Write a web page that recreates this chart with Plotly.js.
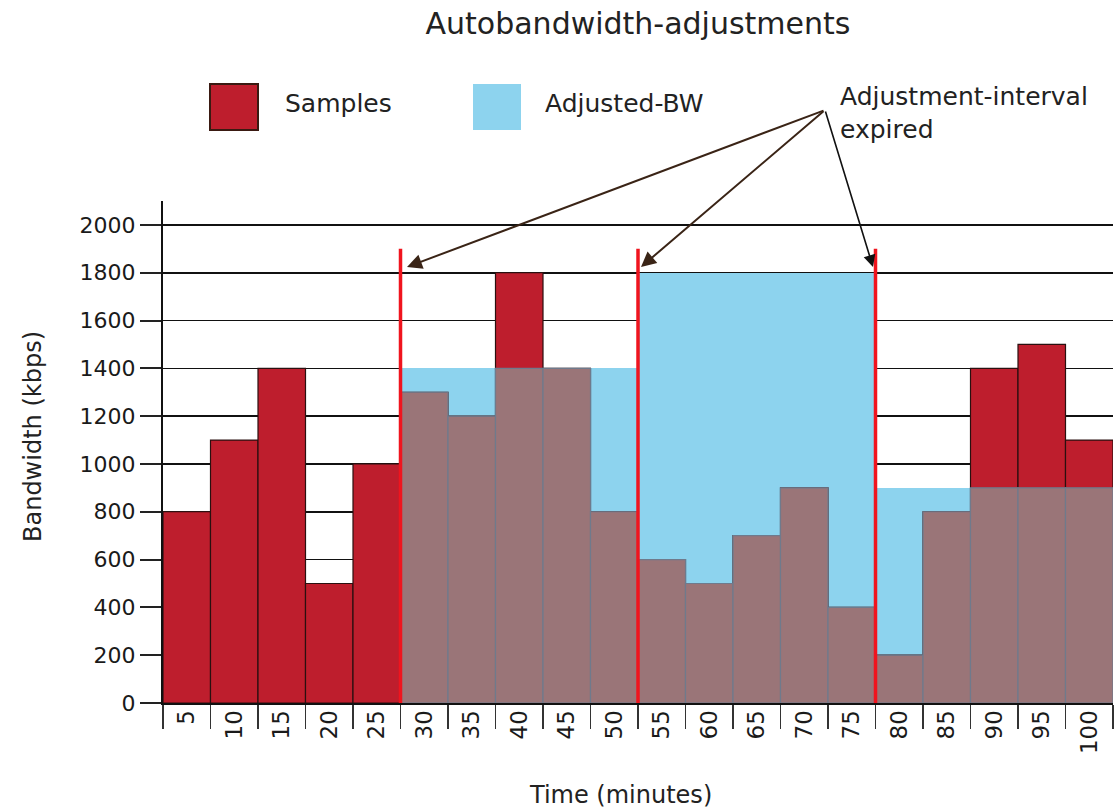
<!DOCTYPE html>
<html>
<head>
<meta charset="utf-8">
<script src="https://cdn.plot.ly/plotly-3.0.1.min.js"></script>
<style>html,body{margin:0;padding:0;background:#fff;}#chart{width:1118px;height:811px;}</style>
</head>
<body>
<div id="chart"></div>
<script>
// ---- data ----
const times = ['5','10','15','20','25','30','35','40','45','50','55','60','65','70','75','80','85','90','95','100'];
const samples = [800,1100,1400,500,1000,1300,1200,1800,1400,800,600,500,700,900,400,200,800,1400,1500,1100];
const adjTimes = ['30','35','40','45','50','55','60','65','70','75','80','85','90','95','100'];
const adjustedBW = [1400,1400,1400,1400,1400,1800,1800,1800,1800,1800,900,900,900,900,900];
const yTicks = [0,200,400,600,800,1000,1200,1400,1600,1800,2000];
const expiryLineTop = 1900;

// overlap (where both series cover the same area) drawn in the blended colour
const adjMap = {};
adjTimes.forEach((t,i)=>{adjMap[t]=adjustedBW[i];});
const overlapX = adjTimes;
const overlapY = adjTimes.map(t => Math.min(samples[times.indexOf(t)], adjMap[t]));

const RED = '#BE1E2D', BLUE = '#8DD3EE', MAUVE = '#9A7578';
const FONT = 'DejaVu Sans, sans-serif';

const traces = [
  {type:'bar', x:adjTimes, y:adjustedBW, name:'Adjusted-BW', marker:{color:BLUE, line:{color:BLUE, width:0}}, showlegend:false},
  {type:'bar', x:times, y:samples, name:'Samples', marker:{color:RED, line:{color:'#2a1010', width:1.2}}, showlegend:false},
  {type:'bar', x:overlapX, y:overlapY, name:'overlap', marker:{color:MAUVE, line:{color:'#6f7a8c', width:1.2}}, showlegend:false}
];

// geometry helpers (pixel -> paper)
const L=163, R=1113, T=201, B=703;
const px = v => (v-L)/(R-L);
const py = v => (B-v)/(B-T);

const shapes = [];
[0.25,0.5,0.75].forEach(xp=>{
  shapes.push({type:'line', xref:'paper', yref:'y', x0:xp, x1:xp, y0:0, y1:expiryLineTop, line:{color:'#F0141E', width:3.5}, layer:'above'});
});
// legend swatches
shapes.push({type:'rect', xref:'paper', yref:'paper', x0:px(210), x1:px(258), y0:py(130), y1:py(84), fillcolor:RED, line:{color:'#3a1a12', width:2}});
shapes.push({type:'rect', xref:'paper', yref:'paper', x0:px(473), x1:px(521), y0:py(130), y1:py(84), fillcolor:BLUE, line:{color:BLUE, width:0}});

const annotations = [
  {xref:'paper', yref:'paper', x:px(283), y:py(104), xanchor:'left', yanchor:'middle', text:'Samples', showarrow:false, font:{family:FONT, size:25, color:'#222'}},
  {xref:'paper', yref:'paper', x:px(543), y:py(104), xanchor:'left', yanchor:'middle', text:'Adjusted-BW', showarrow:false, font:{family:FONT, size:25, color:'#222'}},
  {xref:'paper', yref:'paper', x:px(838), y:py(80), xanchor:'left', yanchor:'top', align:'left', text:'Adjustment-interval<br>expired', showarrow:false, font:{family:FONT, size:25, color:'#222'}},
  {xref:'paper', yref:'paper', x:px(407), y:py(267), ax:418, ay:-157, text:'', showarrow:true, arrowhead:2, arrowsize:1.5, arrowwidth:2, arrowcolor:'#3a2416'},
  {xref:'paper', yref:'paper', x:px(641), y:py(267), ax:184, ay:-157, text:'', showarrow:true, arrowhead:2, arrowsize:1.5, arrowwidth:2, arrowcolor:'#3a2416'},
  {xref:'paper', yref:'paper', x:px(873), y:py(267), ax:-48, ay:-157, text:'', showarrow:true, arrowhead:2, arrowsize:1.5, arrowwidth:1.6, arrowcolor:'#111'},
  {xref:'paper', yref:'paper', x:px(33), y:py(437), xanchor:'center', yanchor:'middle', textangle:-90, text:'Bandwidth (kbps)', showarrow:false, font:{family:FONT, size:24, color:'#222'}},
  {xref:'paper', yref:'paper', x:px(620), y:py(795), xanchor:'center', yanchor:'middle', text:'Time (minutes)', showarrow:false, font:{family:FONT, size:24, color:'#222'}}
];

const layout = {
  width:1118, height:811,
  margin:{l:L, r:1118-R, t:T, b:811-B, pad:0},
  paper_bgcolor:'#fff', plot_bgcolor:'#fff',
  title:{text:'Autobandwidth-adjustments', x:0.5, xanchor:'center', xref:'paper', y:1-23/811, yanchor:'middle', yref:'container', font:{family:FONT, size:30, color:'#222'}},
  barmode:'overlay', bargap:0,
  showlegend:false,
  xaxis:{type:'category', categoryorder:'array', categoryarray:times, tickson:'boundaries', ticks:'outside', ticklen:24, tickwidth:1.3, tickcolor:'#333',
         tickangle:-90, tickfont:{family:FONT, size:23, color:'#1a1a1a'}, ticklabelstandoff:-4,
         showline:true, linecolor:'#111', linewidth:2, showgrid:false, zeroline:false, range:[-0.5,19.5], fixedrange:true},
  yaxis:{range:[0,2100], tickvals:yTicks, ticks:'outside', ticklen:21, tickwidth:2, tickcolor:'#222',
         tickfont:{family:FONT, size:22, color:'#1a1a1a'}, showgrid:true, gridcolor:'#111', gridwidth:1.6,
         showline:true, linecolor:'#111', linewidth:2, zeroline:false, fixedrange:true},
  shapes:shapes, annotations:annotations
};

Plotly.newPlot('chart', traces, layout, {displayModeBar:false, staticPlot:true});
</script>
</body>
</html>
